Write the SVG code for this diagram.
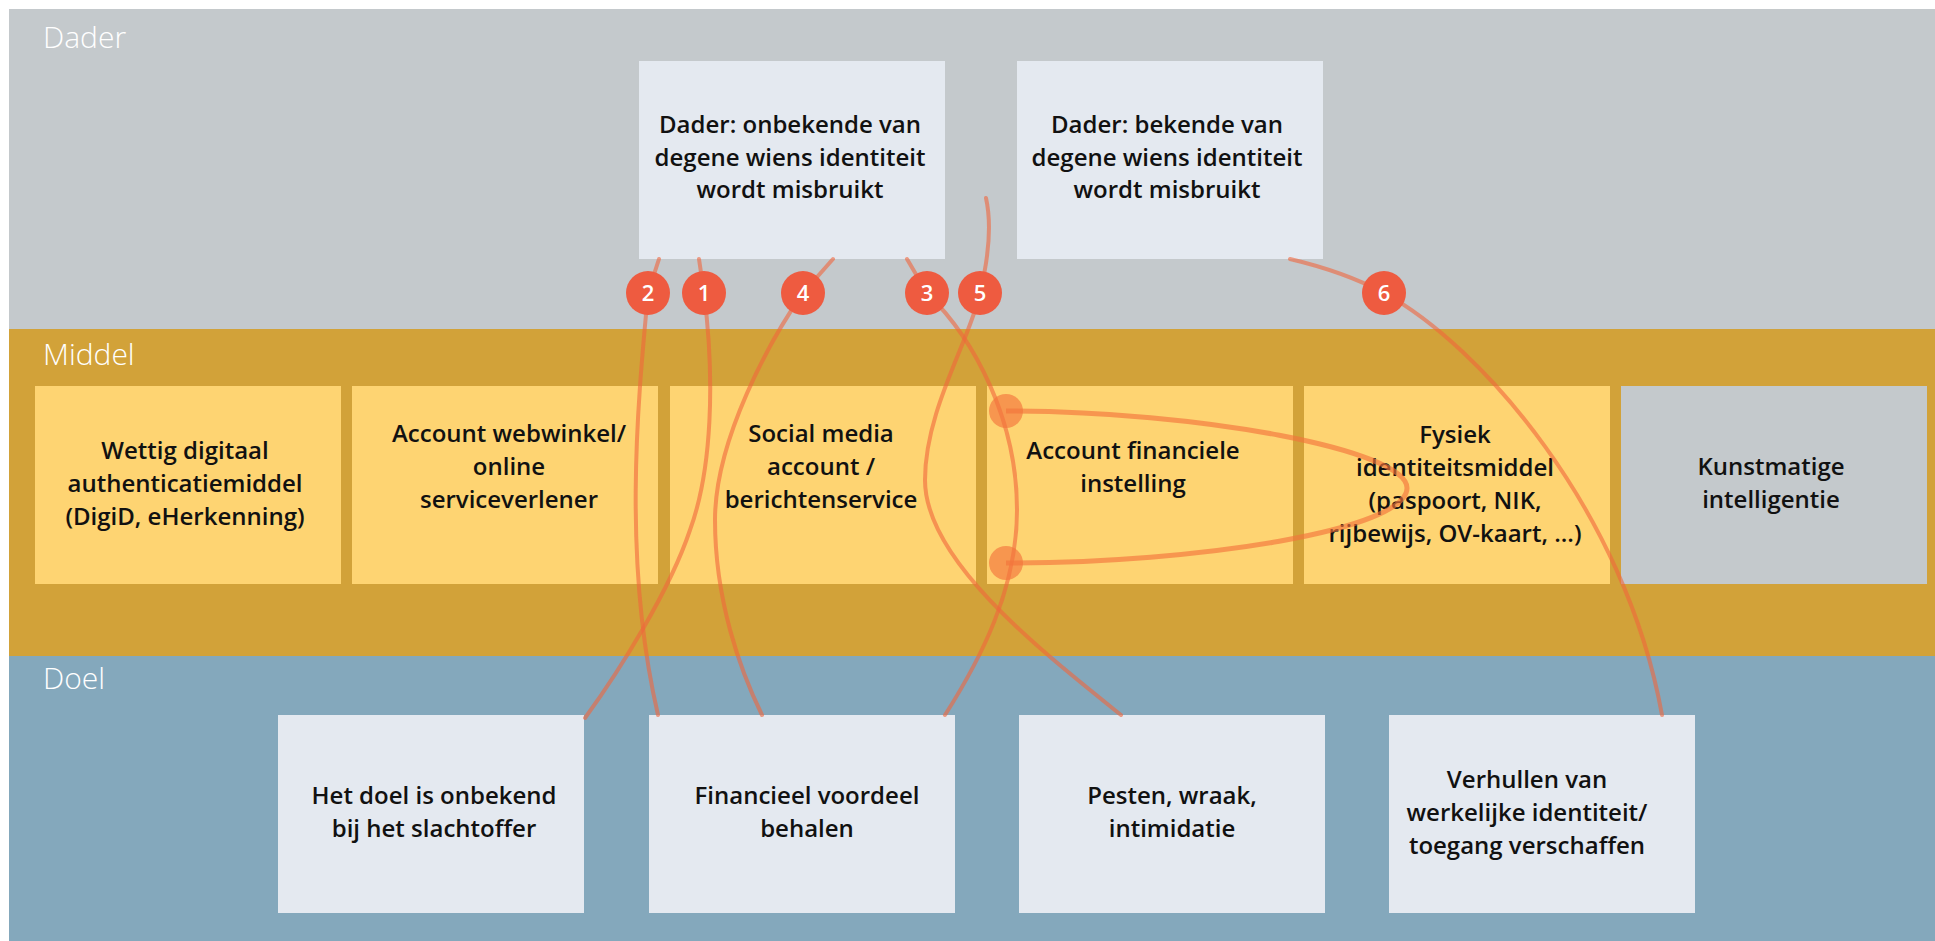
<svg xmlns="http://www.w3.org/2000/svg" width="1935" height="941" viewBox="0 0 1935 941">
<style>
.band-label{font-family:"Open Sans","Liberation Sans",sans-serif;font-weight:300;font-size:30px;fill:#ffffff}
.t{font-family:"Open Sans","Liberation Sans",sans-serif;font-weight:600;font-size:24px;fill:#111111;text-anchor:middle}
.light{fill:#e4e9f0}
.yel{fill:#fed472}
.grey{fill:#c4c9cc}
.conn{fill:none;stroke:#f0663c;stroke-opacity:0.6;stroke-width:4;stroke-linecap:round}
.loop{fill:none;stroke:#f2743c;stroke-opacity:0.65;stroke-width:5}
.blob{fill:#f2743c;fill-opacity:0.65}
.badge circle{fill:#ee5b40}
.badge text{font-family:"Open Sans","Liberation Sans",sans-serif;font-weight:600;font-size:22px;fill:#ffffff;text-anchor:middle}
</style>
<rect width="1935" height="941" fill="#ffffff"/>
<g id="bands">
<rect x="9" y="9" width="1926" height="320" fill="#c4c9cc"/>
<rect x="9" y="329" width="1926" height="327" fill="#d2a239"/>
<rect x="9" y="656" width="1926" height="285" fill="#84a8bc"/>
<text class="band-label" x="43" y="48">Dader</text>
<text class="band-label" x="43" y="365">Middel</text>
<text class="band-label" x="43" y="689">Doel</text>
</g>
<g id="dader-onbekend">
<rect class="light" x="639" y="61" width="306" height="198"/>
<text class="t" x="790" y="133">Dader: onbekende van</text>
<text class="t" x="790" y="166">degene wiens identiteit</text>
<text class="t" x="790" y="198">wordt misbruikt</text>
</g>
<g id="dader-bekend">
<rect class="light" x="1017" y="61" width="306" height="198"/>
<text class="t" x="1167" y="133">Dader: bekende van</text>
<text class="t" x="1167" y="166">degene wiens identiteit</text>
<text class="t" x="1167" y="198">wordt misbruikt</text>
</g>
<g id="middel-digid">
<rect class="yel" x="35" y="386" width="306" height="198"/>
<text class="t" x="185" y="459">Wettig digitaal</text>
<text class="t" x="185" y="492">authenticatiemiddel</text>
<text class="t" x="185" y="525">(DigiD, eHerkenning)</text>
</g>
<g id="middel-webwinkel">
<rect class="yel" x="352" y="386" width="306" height="198"/>
<text class="t" x="509" y="442">Account webwinkel/</text>
<text class="t" x="509" y="475">online</text>
<text class="t" x="509" y="508">serviceverlener</text>
</g>
<g id="middel-socialmedia">
<rect class="yel" x="670" y="386" width="306" height="198"/>
<text class="t" x="821" y="442">Social media</text>
<text class="t" x="821" y="475">account /</text>
<text class="t" x="821" y="508">berichtenservice</text>
</g>
<g id="middel-financieel">
<rect class="yel" x="987" y="386" width="306" height="198"/>
<text class="t" x="1133" y="459">Account financiele</text>
<text class="t" x="1133" y="492">instelling</text>
</g>
<g id="middel-fysiek">
<rect class="yel" x="1304" y="386" width="306" height="198"/>
<text class="t" x="1455" y="443">Fysiek</text>
<text class="t" x="1455" y="476">identiteitsmiddel</text>
<text class="t" x="1455" y="509">(paspoort, NIK,</text>
<text class="t" x="1455" y="542">rijbewijs, OV-kaart, ...)</text>
</g>
<g id="middel-ai">
<rect class="grey" x="1621" y="386" width="306" height="198"/>
<text class="t" x="1771" y="475">Kunstmatige</text>
<text class="t" x="1771" y="508">intelligentie</text>
</g>
<g id="doel-onbekend">
<rect class="light" x="278" y="715" width="306" height="198"/>
<text class="t" x="434" y="804">Het doel is onbekend</text>
<text class="t" x="434" y="837">bij het slachtoffer</text>
</g>
<g id="doel-financieel">
<rect class="light" x="649" y="715" width="306" height="198"/>
<text class="t" x="807" y="804">Financieel voordeel</text>
<text class="t" x="807" y="837">behalen</text>
</g>
<g id="doel-pesten">
<rect class="light" x="1019" y="715" width="306" height="198"/>
<text class="t" x="1172" y="804">Pesten, wraak,</text>
<text class="t" x="1172" y="837">intimidatie</text>
</g>
<g id="doel-verhullen">
<rect class="light" x="1389" y="715" width="306" height="198"/>
<text class="t" x="1527" y="788">Verhullen van</text>
<text class="t" x="1527" y="821">werkelijke identiteit/</text>
<text class="t" x="1527" y="854">toegang verschaffen</text>
</g>
<g id="connectors">
<path class="conn" d="M659,259 L648,293 C638,400 622,560 658,715"/>
<path class="conn" d="M699,259 L704,293 C715,380 712,470 690,530 C670,590 620,670 585,718"/>
<path class="conn" d="M833,259 L803,293 C770,340 715,440 715,520 C715,600 740,670 762,715"/>
<path class="conn" d="M907,259 L927,293 C975,340 1017,420 1017,510 C1017,590 980,660 945,715"/>
<path class="conn" d="M986,198 C992,225 988,260 980,293 C970,340 925,410 925,480 C925,560 1040,650 1121,715"/>
<path class="conn" d="M1290,259 Q1345,272 1384,293 C1480,345 1625,510 1662,715"/>
<path class="loop" d="M1006,411 C1200,411 1407,450 1407,488 C1407,530 1200,563 1006,563"/>
<circle class="blob" cx="1006" cy="411" r="17"/>
<circle class="blob" cx="1006" cy="563" r="17"/>
</g>
<g id="connector-labels">
<g class="badge"><circle cx="704" cy="293" r="22"/><text x="704" y="301">1</text></g>
<g class="badge"><circle cx="648" cy="293" r="22"/><text x="648" y="301">2</text></g>
<g class="badge"><circle cx="927" cy="293" r="22"/><text x="927" y="301">3</text></g>
<g class="badge"><circle cx="803" cy="293" r="22"/><text x="803" y="301">4</text></g>
<g class="badge"><circle cx="980" cy="293" r="22"/><text x="980" y="301">5</text></g>
<g class="badge"><circle cx="1384" cy="293" r="22"/><text x="1384" y="301">6</text></g>
</g>
</svg>
